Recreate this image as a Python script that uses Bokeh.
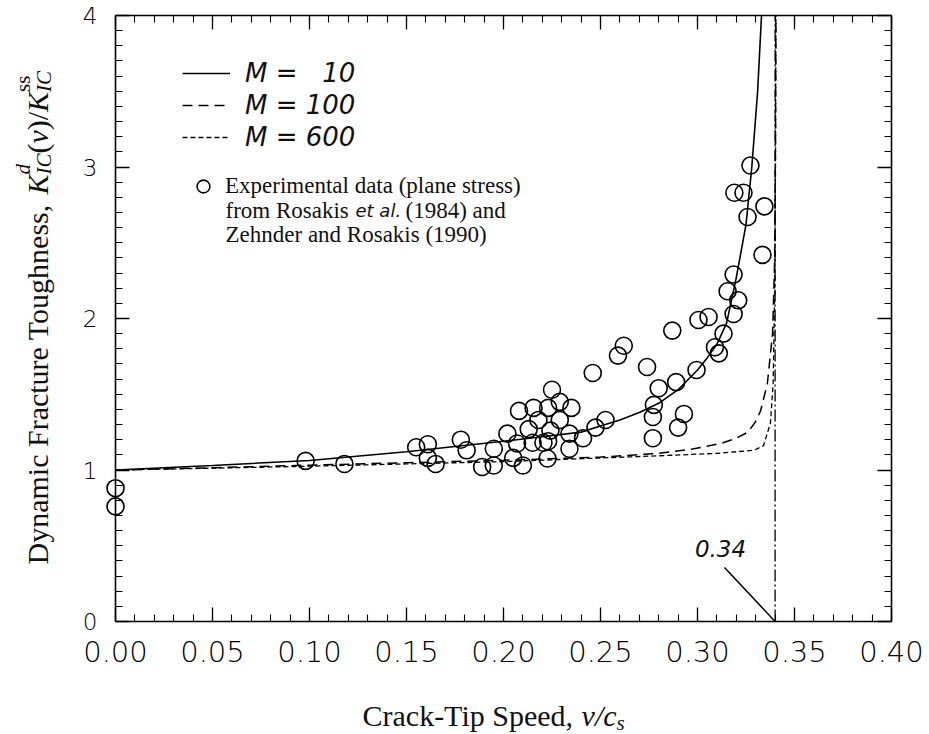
import math
from bokeh.plotting import figure
from bokeh.models import (FixedTicker, LinearAxis, Label, Legend, LegendItem,
                          Range1d, CustomJSTickFormatter, Arrow)
from bokeh.embed import file_html
from bokeh.resources import INLINE

# ---------------- data ----------------
x_ticks = [0.00, 0.05, 0.10, 0.15, 0.20, 0.25, 0.30, 0.35, 0.40]
x_tick_labels = ["0.00", "0.05", "0.10", "0.15", "0.20", "0.25", "0.30", "0.35", "0.40"]
y_ticks = [0, 1, 2, 3, 4]
y_tick_labels = ["0", "1", "2", "3", "4"]

# M = 10 (solid)
m10_x = [0.000, 0.050, 0.100, 0.150, 0.200, 0.220, 0.240, 0.250, 0.260, 0.270, 0.280,
         0.290, 0.300, 0.305, 0.310, 0.315, 0.320, 0.325, 0.328, 0.331, 0.333]
m10_y = [1.00, 1.03, 1.063, 1.12, 1.19, 1.22, 1.25, 1.29, 1.33, 1.38, 1.44,
         1.53, 1.66, 1.74, 1.83, 1.97, 2.27, 2.62, 3.00, 3.50, 4.00]

# M = 100 (dashed)
m100_x = [0.000, 0.050, 0.100, 0.150, 0.200, 0.250, 0.280, 0.298, 0.312, 0.320,
          0.326, 0.330, 0.3325, 0.336, 0.3387, 0.3398, 0.3402, 0.3404]
m100_y = [1.00, 1.015, 1.032, 1.048, 1.064, 1.085, 1.11, 1.14, 1.175, 1.21,
          1.25, 1.32, 1.39, 1.57, 1.90, 2.40, 3.20, 4.00]

# M = 600 (short dashes)
m600_x = [0.000, 0.050, 0.100, 0.150, 0.200, 0.243, 0.2845, 0.310, 0.329, 0.334,
          0.3376, 0.339, 0.3398, 0.3402, 0.3404]
m600_y = [1.00, 1.012, 1.025, 1.040, 1.055, 1.076, 1.096, 1.11, 1.13, 1.16,
          1.31, 1.57, 2.20, 3.00, 4.00]

# limiting speed
asym_x = [0.34, 0.34]
asym_y = [0.0, 4.0]
asym_label = "0.34"

# experimental data (plane stress)
exp_x = [0.000, 0.000, 0.098, 0.118, 0.155, 0.161, 0.161, 0.165, 0.178, 0.181,
         0.189, 0.195, 0.195, 0.202, 0.205, 0.208, 0.207, 0.210, 0.213, 0.215,
         0.2155, 0.218, 0.2206, 0.2227, 0.223, 0.223, 0.225, 0.2242, 0.229, 0.229,
         0.234, 0.235, 0.234, 0.241, 0.2474, 0.2526, 0.246, 0.259, 0.262, 0.274,
         0.277, 0.277, 0.2775, 0.280, 0.287, 0.289, 0.290, 0.293, 0.2995, 0.3005,
         0.3057, 0.309, 0.311, 0.3134, 0.3155, 0.3186, 0.321, 0.3186, 0.3258, 0.3237,
         0.319, 0.3273, 0.3345, 0.3335]
exp_y = [0.88, 0.76, 1.06, 1.04, 1.15, 1.17, 1.08, 1.04, 1.20, 1.13,
         1.02, 1.03, 1.14, 1.24, 1.08, 1.39, 1.175, 1.03, 1.27, 1.18,
         1.41, 1.33, 1.18, 1.076, 1.41, 1.19, 1.53, 1.26, 1.45, 1.33,
         1.14, 1.41, 1.24, 1.21, 1.28, 1.33, 1.64, 1.755, 1.82, 1.68,
         1.21, 1.35, 1.43, 1.54, 1.92, 1.58, 1.28, 1.37, 1.66, 1.99,
         2.01, 1.81, 1.77, 1.90, 2.18, 2.03, 2.12, 2.29, 2.67, 2.83,
         2.83, 3.01, 2.74, 2.42]

legend_labels = ["M = \u200710", "M = 100", "M = 600"]
exp_legend_lines = ["Experimental data (plane stress)",
                    "from Rosakis ", "et al.", "(1984) and",
                    "Zehnder and Rosakis (1990)"]

# ---------------- layout ----------------
W, H = 929, 734
FL, FR, FT, FB = 115, 38, 15, 113          # where the axes box sits on the canvas
X0, X1, Y0, Y1 = 0.0, 0.40, 0.0, 4.0
FW = W - FL - FR
FH = H - FT - FB
TICK_FONT = "DejaVu Sans Light, DejaVu Sans"
SANS = "DejaVu Sans"
SERIF = "Liberation Serif"


def dx(px):
    return X0 + (px - FL) / FW * (X1 - X0)


def dy(py):
    return Y0 + (H - FB - py) / FH * (Y1 - Y0)


# the plotting frame covers the whole canvas; axes sit at fixed locations
p = figure(width=W, height=H, x_range=Range1d(dx(0), dx(W)), y_range=Range1d(dy(H), dy(0)),
           output_backend="svg", toolbar_location=None,
           x_axis_location=None, y_axis_location=None,
           min_border_left=0, min_border_right=0, min_border_top=0, min_border_bottom=0)
p.grid.visible = False
p.outline_line_color = None
p.background_fill_color = "white"
p.border_fill_color = "white"

x_minor = [i * 0.01 for i in range(41)]
y_minor = [i * 0.1 for i in range(41)]


def make_axis(ticks, minor, bounds, loc, labels=None, size=None, standoff=0, font=TICK_FONT):
    ax = LinearAxis(ticker=FixedTicker(ticks=ticks, minor_ticks=minor), bounds=bounds,
                    fixed_location=loc)
    ax.axis_line_color = "black"
    ax.axis_line_width = 1.6
    ax.major_tick_line_color = "black"
    ax.major_tick_line_width = 1.3
    ax.minor_tick_line_color = "black"
    ax.minor_tick_line_width = 1.1
    ax.major_tick_in = 14
    ax.major_tick_out = 0
    ax.minor_tick_in = 7
    ax.minor_tick_out = 0
    if labels is None:
        ax.formatter = CustomJSTickFormatter(code="return ''")
        ax.major_label_text_font_size = "0px"
        ax.major_label_standoff = 0
    else:
        ax.major_label_overrides = dict(zip(ticks, labels))
        ax.major_label_text_font = font
        ax.major_label_text_font_size = size
        ax.major_label_text_color = "black"
        ax.major_label_standoff = standoff
    return ax


p.add_layout(make_axis(x_ticks, x_minor, (X0, X1), Y0, x_tick_labels, "29px", 19), "below")
p.add_layout(make_axis(y_ticks, y_minor, (Y0, Y1), X0, y_tick_labels, "23px", 18), "left")
p.add_layout(make_axis(x_ticks, x_minor, (X0, X1), Y1), "above")
p.add_layout(make_axis(y_ticks, y_minor, (Y0, Y1), X1), "right")

# ---------------- curves & data ----------------
r10 = p.line(m10_x, m10_y, line_color="black", line_width=1.6)
r100 = p.line(m100_x, m100_y, line_color="black", line_width=1.5, line_dash="10 6")
r600 = p.line(m600_x, m600_y, line_color="black", line_width=1.3, line_dash="5 3")
p.line(asym_x, asym_y, line_color="black", line_width=1.3, line_dash="12 3 2 3")
rexp = p.scatter(exp_x, exp_y, marker="circle", size=17, fill_color=None,
                 line_color="black", line_width=1.6)


def lab(text, px, py, size, font=SERIF, style="normal", align="left",
        baseline="middle", angle=0.0):
    p.add_layout(Label(x=dx(px), y=dy(py), text=text, text_font=font,
                       text_font_style=style, text_font_size=f"{size}px",
                       text_align=align, text_baseline=baseline, angle=angle,
                       text_color="#111111"))


# ---------------- axis titles ----------------
xb = 715
xs = 362
lab("Crack-Tip Speed, ", xs, xb, 30, baseline="alphabetic")
lab("v/c", xs + 7.304 * 30, xb, 30, style="italic", baseline="alphabetic")
lab("s", xs + 7.304 * 30 + 1.166 * 30, xb + 7, 21, style="italic", baseline="alphabetic")

ang = math.pi / 2
base = 37
sub_x, sup_x = base + 6, base - 15
y_pos = 564.0
S, s = 30, 21
for text, st, w in [("Dynamic Fracture Toughness, ", "normal", 12.33 * S), ("K", "italic", 0.667 * S)]:
    lab(text, base, y_pos, S, style=st, baseline="alphabetic", angle=ang)
    y_pos -= w
lab("IC", sub_x, y_pos, s, style="italic", baseline="alphabetic", angle=ang)
lab("d", sup_x, y_pos, s, style="italic", baseline="alphabetic", angle=ang)
y_pos -= 1.0 * s
for text, st, w in [("(", "normal", 0.333 * S), ("v", "italic", 0.444 * S),
                    (")/", "normal", 0.611 * S), ("K", "italic", 0.667 * S)]:
    lab(text, base, y_pos, S, style=st, baseline="alphabetic", angle=ang)
    y_pos -= w
lab("IC", sub_x, y_pos, s, style="italic", baseline="alphabetic", angle=ang)
lab("ss", sup_x, y_pos, s, style="normal", baseline="alphabetic", angle=ang)

# ---------------- legend texts ----------------
lab(exp_legend_lines[1], 225, 210, 23)
lab(exp_legend_lines[2], 355, 210, 18, font=SANS, style="italic")
lab(exp_legend_lines[3], 405, 210, 23)
lab(exp_legend_lines[4], 225, 234, 23)
lab(asym_label, 720, 548, 23, font=SANS, style="italic", align="center")

# ---------------- legends (frame == canvas, so offsets are canvas pixels) ----------------
leg1 = Legend(items=[LegendItem(label=legend_labels[0], renderers=[r10]),
                     LegendItem(label=legend_labels[1], renderers=[r100]),
                     LegendItem(label=legend_labels[2], renderers=[r600])],
              location=(182, H - 153), padding=0, margin=0, spacing=0,
              glyph_width=48, glyph_height=32, label_height=32, label_standoff=15,
              label_text_font=SANS, label_text_font_style="italic",
              label_text_font_size="26px", label_text_color="#111111",
              border_line_color=None, background_fill_alpha=0)
p.add_layout(leg1)

leg2 = Legend(items=[LegendItem(label=exp_legend_lines[0], renderers=[rexp])],
              location=(187, H - 202), padding=0, margin=0, spacing=0,
              glyph_width=32, glyph_height=32, label_height=32, label_standoff=6,
              label_text_font=SERIF, label_text_font_size="23px",
              label_text_color="#111111",
              border_line_color=None, background_fill_alpha=0)
p.add_layout(leg2)

# leader line for the 0.34 mark
p.add_layout(Arrow(end=None, x_start=dx(724), y_start=dy(567), x_end=asym_x[0], y_end=Y0,
                   line_color="black", line_width=1.5))

open("out.html", "w").write(file_html(p, INLINE))
